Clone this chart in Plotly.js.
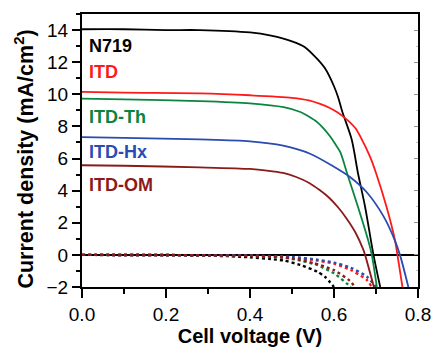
<!DOCTYPE html>
<html>
<head>
<meta charset="utf-8">
<script src="https://cdn.plot.ly/plotly-3.0.1.min.js"></script>
<style>html,body{margin:0;padding:0;background:#fff;}#chart{width:435px;height:348px;}</style>
</head>
<body>
<div id="chart"></div>
<script>
// Light J-V curves (solid)
const n719V = [0, 0.1, 0.2, 0.28, 0.4, 0.45, 0.5, 0.53, 0.56, 0.58, 0.6, 0.61, 0.62, 0.642, 0.657, 0.674, 0.694, 0.71];
const n719J = [14.05, 14.05, 14.0, 14.0, 13.85, 13.65, 13.3, 12.95, 12.2, 11.56, 10.5, 9.8, 8.9, 7.2, 5.1, 3.0, 0, -2];
const itdV = [0, 0.1, 0.28, 0.4, 0.5, 0.54, 0.567, 0.59, 0.607, 0.625, 0.638, 0.652, 0.664, 0.686, 0.70, 0.725, 0.745, 0.751, 0.763];
const itdJ = [10.15, 10.1, 10.06, 9.94, 9.78, 9.62, 9.4, 9.15, 8.9, 8.55, 8.25, 7.85, 7.3, 6.1, 5.1, 3.0, 0.94, 0, -2];
const thV = [0, 0.1, 0.28, 0.4, 0.48, 0.52, 0.54, 0.56, 0.575, 0.59, 0.603, 0.615, 0.632, 0.657, 0.681, 0.69, 0.702];
const thJ = [9.73, 9.68, 9.58, 9.44, 9.2, 8.9, 8.62, 8.27, 7.88, 7.4, 6.9, 6.4, 5.0, 3.0, 0.94, 0, -2];
const hxV = [0, 0.1, 0.28, 0.4, 0.479, 0.543, 0.598, 0.638, 0.678, 0.718, 0.741, 0.757, 0.777];
const hxJ = [7.33, 7.28, 7.19, 7.07, 6.8, 6.3, 5.52, 4.85, 3.9, 2.4, 1.15, 0, -2];
const omV = [0, 0.1, 0.28, 0.4, 0.44, 0.479, 0.51, 0.541, 0.565, 0.589, 0.61, 0.629, 0.652, 0.67, 0.674, 0.695];
const omJ = [5.58, 5.55, 5.45, 5.35, 5.25, 5.1, 4.85, 4.48, 4.05, 3.54, 2.95, 2.3, 1.35, 0.31, 0, -2];
// Dark currents (dotted)
const n719DV = [0, 0.2, 0.3, 0.35, 0.4, 0.45, 0.48, 0.52, 0.56, 0.58, 0.6];
const n719DJ = [0, -0.02, -0.05, -0.08, -0.15, -0.26, -0.35, -0.63, -1.04, -1.4, -2.0];
const thDV = [0, 0.2, 0.3, 0.4, 0.45, 0.48, 0.52, 0.56, 0.6, 0.63, 0.64];
const thDJ = [0, -0.01, -0.03, -0.07, -0.12, -0.17, -0.35, -0.63, -1.15, -1.77, -2.0];
const omDV = [0, 0.2, 0.3, 0.4, 0.45, 0.5, 0.55, 0.6, 0.637, 0.65];
const omDJ = [0, -0.01, -0.03, -0.06, -0.1, -0.22, -0.5, -0.95, -1.6, -2.0];
const itdDV = [0, 0.2, 0.3, 0.4, 0.5, 0.56, 0.6, 0.64, 0.678, 0.69];
const itdDJ = [0, -0.01, -0.02, -0.05, -0.15, -0.35, -0.55, -0.94, -1.56, -2.0];
const hxDV = [0, 0.2, 0.3, 0.4, 0.5, 0.56, 0.6, 0.64, 0.678, 0.70];
const hxDJ = [0, -0.01, -0.02, -0.04, -0.13, -0.3, -0.48, -0.8, -1.35, -2.0];

const labels = ['N719', 'ITD', 'ITD-Th', 'ITD-Hx', 'ITD-OM'];
const labelY = [12.98, 11.39, 8.6, 6.42, 4.33];
const colors = ['#000000', '#ff1a1a', '#0a8540', '#2a4bb0', '#8b1a1a'];

const lightSets = [[n719V, n719J], [itdV, itdJ], [thV, thJ], [hxV, hxJ], [omV, omJ]];
const darkSets = [[n719DV, n719DJ], [itdDV, itdDJ], [thDV, thDJ], [hxDV, hxDJ], [omDV, omDJ]];

const traces = [];
darkSets.forEach((s, i) => traces.push({
  x: s[0], y: s[1], mode: 'lines', type: 'scatter', showlegend: false,
  line: {color: colors[i], width: 2.4, dash: 'dot', shape: 'spline', smoothing: 0.6}
}));
lightSets.forEach((s, i) => traces.push({
  x: s[0], y: s[1], mode: 'lines', type: 'scatter', showlegend: false,
  line: {color: colors[i], width: 1.8, shape: 'spline', smoothing: 0.8}
}));
// invisible trace for right-side axis ticks
traces.push({x: [0], y: [0], yaxis: 'y2', mode: 'markers', marker: {opacity: 0}, showlegend: false, hoverinfo: 'skip'});

const font = 'Liberation Sans, Arial, sans-serif';
const annotations = labels.map((t, i) => ({
  x: 0.013, y: labelY[i], xref: 'x', yref: 'y', xanchor: 'left', yanchor: 'middle',
  text: '<b>' + t + '</b>', showarrow: false, font: {family: font, size: 18, color: colors[i]}
}));
annotations.push({
  x: -0.173, y: 0.47, xref: 'paper', yref: 'paper', xanchor: 'center', yanchor: 'middle',
  textangle: -90, showarrow: false,
  text: '<b>Current density (mA/cm<sup>2</sup>)</b>', font: {family: font, size: 21.5, color: '#000'}
});

const layout = {
  width: 435, height: 348,
  margin: {l: 82, r: 17, t: 14, b: 61},
  paper_bgcolor: '#fff', plot_bgcolor: '#fff',
  font: {family: font, color: '#000'},
  showlegend: false,
  xaxis: {
    range: [0, 0.8], dtick: 0.2, tick0: 0, tickformat: '.1f',
    ticks: 'outside', ticklen: 9, tickwidth: 2, tickcolor: '#000',
    showline: true, linewidth: 2, linecolor: '#000', mirror: true,
    showgrid: false, zeroline: false,
    minor: {dtick: 0.1, ticks: 'outside', ticklen: 5, tickwidth: 2, tickcolor: '#000'},
    tickfont: {size: 19, family: font},
    title: {text: '<b>Cell voltage (V)</b>', font: {size: 20, family: font}, standoff: 4}
  },
  yaxis: {
    range: [-2, 15], tickvals: [-2, 0, 2, 4, 6, 8, 10, 12, 14],
    ticks: 'outside', ticklen: 8, tickwidth: 2, tickcolor: '#000',
    showline: true, linewidth: 2, linecolor: '#000', mirror: true,
    showgrid: false, zeroline: true, zerolinecolor: '#000', zerolinewidth: 2,
    minor: {dtick: 1, tick0: 0, ticks: 'outside', ticklen: 4, tickwidth: 2, tickcolor: '#000'},
    tickfont: {size: 19, family: font}
  },
  yaxis2: {
    overlaying: 'y', side: 'right', range: [-2, 15], tickvals: [-2, 0, 2, 4, 6, 8, 10, 12, 14],
    ticks: 'inside', ticklen: 4, tickwidth: 1, tickcolor: '#999', showticklabels: false,
    showgrid: false, zeroline: false, showline: false,
    minor: {dtick: 1, ticks: 'inside', ticklen: 2, tickwidth: 1, tickcolor: '#bbb'}
  },
  annotations: annotations
};

Plotly.newPlot('chart', traces, layout, {staticPlot: true, displayModeBar: false});
</script>
</body>
</html>
